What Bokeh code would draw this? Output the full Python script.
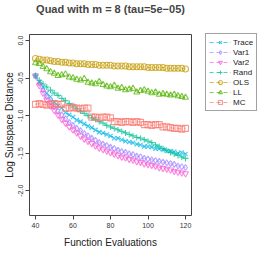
from bokeh.plotting import figure
from bokeh.models import Legend, LegendItem, FixedTicker, Range1d, Title
from bokeh.embed import file_html
from bokeh.resources import INLINE

evals = [40, 42, 44, 46, 48, 50, 52, 54, 56, 58, 60, 62, 64, 66, 68, 70, 72, 74, 76, 78,
         80, 82, 84, 86, 88, 90, 92, 94, 96, 98, 100, 102, 104, 106, 108, 110, 112, 114, 116, 118, 120]

trace = [-0.47, -0.55, -0.62, -0.70, -0.75, -0.82, -0.87, -0.90, -0.96, -0.99, -1.02, -1.06, -1.08, -1.11, -1.14,
         -1.16, -1.19, -1.22, -1.23, -1.25, -1.27, -1.30, -1.30, -1.32, -1.34, -1.35, -1.36, -1.38, -1.39, -1.41,
         -1.41, -1.42, -1.44, -1.44, -1.45, -1.47, -1.47, -1.48, -1.50, -1.49, -1.51]
var1 = [-0.47, -0.57, -0.66, -0.75, -0.82, -0.88, -0.94, -0.99, -1.04, -1.09, -1.13, -1.17, -1.20, -1.24, -1.27,
        -1.30, -1.33, -1.36, -1.38, -1.40, -1.42, -1.44, -1.46, -1.48, -1.49, -1.51, -1.52, -1.54, -1.55, -1.57,
        -1.58, -1.59, -1.60, -1.61, -1.62, -1.63, -1.64, -1.65, -1.67, -1.68, -1.69]
var2 = [-0.47, -0.60, -0.70, -0.79, -0.87, -0.93, -0.99, -1.05, -1.10, -1.15, -1.19, -1.23, -1.27, -1.31, -1.34,
        -1.37, -1.40, -1.43, -1.45, -1.47, -1.49, -1.51, -1.53, -1.55, -1.56, -1.58, -1.59, -1.61, -1.62, -1.64,
        -1.65, -1.66, -1.67, -1.69, -1.70, -1.71, -1.72, -1.74, -1.75, -1.76, -1.77]
rand = [-0.47, -0.53, -0.58, -0.62, -0.66, -0.70, -0.73, -0.77, -0.80, -0.84, -0.87, -0.91, -0.94, -0.97, -1.00,
        -1.03, -1.05, -1.08, -1.10, -1.13, -1.15, -1.17, -1.19, -1.21, -1.23, -1.25, -1.27, -1.29, -1.30, -1.32,
        -1.34, -1.36, -1.39, -1.41, -1.44, -1.46, -1.49, -1.51, -1.53, -1.55, -1.57]
ols = [-0.24, -0.25, -0.26, -0.26, -0.27, -0.28, -0.28, -0.29, -0.29, -0.30, -0.30, -0.31, -0.31, -0.31, -0.32,
       -0.32, -0.32, -0.33, -0.33, -0.33, -0.33, -0.34, -0.34, -0.34, -0.34, -0.35, -0.35, -0.35, -0.35, -0.35,
       -0.36, -0.36, -0.36, -0.36, -0.36, -0.37, -0.37, -0.37, -0.37, -0.37, -0.38]
ll = [-0.30, -0.31, -0.35, -0.38, -0.42, -0.44, -0.47, -0.46, -0.45, -0.49, -0.50, -0.52, -0.53, -0.51, -0.56,
      -0.57, -0.58, -0.55, -0.59, -0.61, -0.62, -0.60, -0.64, -0.63, -0.66, -0.65, -0.64, -0.69, -0.67, -0.66,
      -0.68, -0.70, -0.69, -0.72, -0.71, -0.72, -0.73, -0.72, -0.74, -0.75, -0.76]
mc = [-0.85, -0.84, -0.85, -0.86, -0.85, -0.84, -0.85, -0.85, -0.90, -0.90, -0.89, -0.90, -0.91, -0.90, -0.90,
      -1.02, -1.02, -1.03, -1.02, -1.02, -1.03, -1.08, -1.08, -1.09, -1.08, -1.08, -1.09, -1.08, -1.09, -1.12,
      -1.12, -1.13, -1.12, -1.12, -1.15, -1.15, -1.16, -1.17, -1.17, -1.18, -1.17]

names = ["Trace", "Var1", "Var2", "Rand", "OLS", "LL", "MC"]
series = [trace, var1, var2, rand, ols, ll, mc]
colors = ["#00B6EB", "#A58AFF", "#FB61D7", "#00C094", "#C49A00", "#53B400", "#F8766D"]
markers = ["x", "diamond", "inverted_triangle", "cross", "circle", "triangle", "square"]

y_ticks = [0.0, -0.5, -1.0, -1.5, -2.0]
y_tick_labels = ["0.0", "-0.5", "-1.0", "-1.5", "-2.0"]
x_ticks = [40, 60, 80, 100, 120]

FONT = "Liberation Sans"

p = figure(frame_width=162, frame_height=181,
           output_backend="svg", toolbar_location=None,
           x_range=Range1d(36.8, 123.2), y_range=Range1d(-2.33, 0.08),
           min_border_left=4, min_border_top=4, min_border_bottom=4, min_border_right=2,
           title="Quad with m = 8 (tau=5e\u221205)")

p.title.text_font = FONT
p.title.text_font_size = "11px"
p.title.text_font_style = "bold"
p.title.align = "center"
p.title.standoff = 0
p.add_layout(Title(text=" ", text_font_size="4px", standoff=13), "above")

p.grid.visible = False
p.outline_line_color = "#444444"
p.outline_line_width = 1
p.background_fill_color = "white"
p.border_fill_color = "white"

for ax in (p.xaxis, p.yaxis):
    ax.axis_line_color = None
    ax.major_tick_line_color = "#444444"
    ax.minor_tick_line_color = None
    ax.major_tick_in = 0
    ax.major_tick_out = 4
    ax.major_label_text_font = FONT
    ax.major_label_text_font_size = "7px"
    ax.major_label_text_color = "#333333"
    ax.axis_label_text_font = FONT
    ax.axis_label_text_font_size = "10px"
    ax.axis_label_text_font_style = "normal"
    ax.axis_label_text_color = "#222222"

p.xaxis.ticker = FixedTicker(ticks=x_ticks)
p.xaxis.major_label_standoff = 3
p.xaxis.axis_label = "Function Evaluations"
p.xaxis.axis_label_standoff = 6

p.yaxis.ticker = FixedTicker(ticks=y_ticks)
p.yaxis.major_label_overrides = {t: s for t, s in zip(y_ticks, y_tick_labels)}
p.yaxis.major_label_orientation = "vertical"
p.yaxis.major_label_standoff = 2
p.yaxis.axis_label = "Log Subspace Distance"
p.yaxis.axis_label_standoff = 1

items = []
for name, ys, c, m in zip(names, series, colors, markers):
    lr = p.line(evals, ys, line_color=c, line_dash="4 3", line_width=1, line_alpha=0.7)
    sr = p.scatter(evals, ys, marker=m, size=6, line_color=c, fill_color=None, line_alpha=0.75, line_width=1.1)
    items.append(LegendItem(label=name, renderers=[lr, sr]))

legend = Legend(items=items, location=(14, 104))
legend.label_text_font = FONT
legend.label_text_font_size = "8px"
legend.label_text_color = "#222222"
legend.glyph_width = 22
legend.glyph_height = 10
legend.label_height = 10
legend.label_standoff = 2
legend.spacing = 0
legend.padding = 3
legend.margin = 10
legend.border_line_color = "#444444"
legend.border_line_width = 1
legend.background_fill_alpha = 1
p.add_layout(legend, "right")

open("out.html", "w").write(file_html(p, INLINE))
